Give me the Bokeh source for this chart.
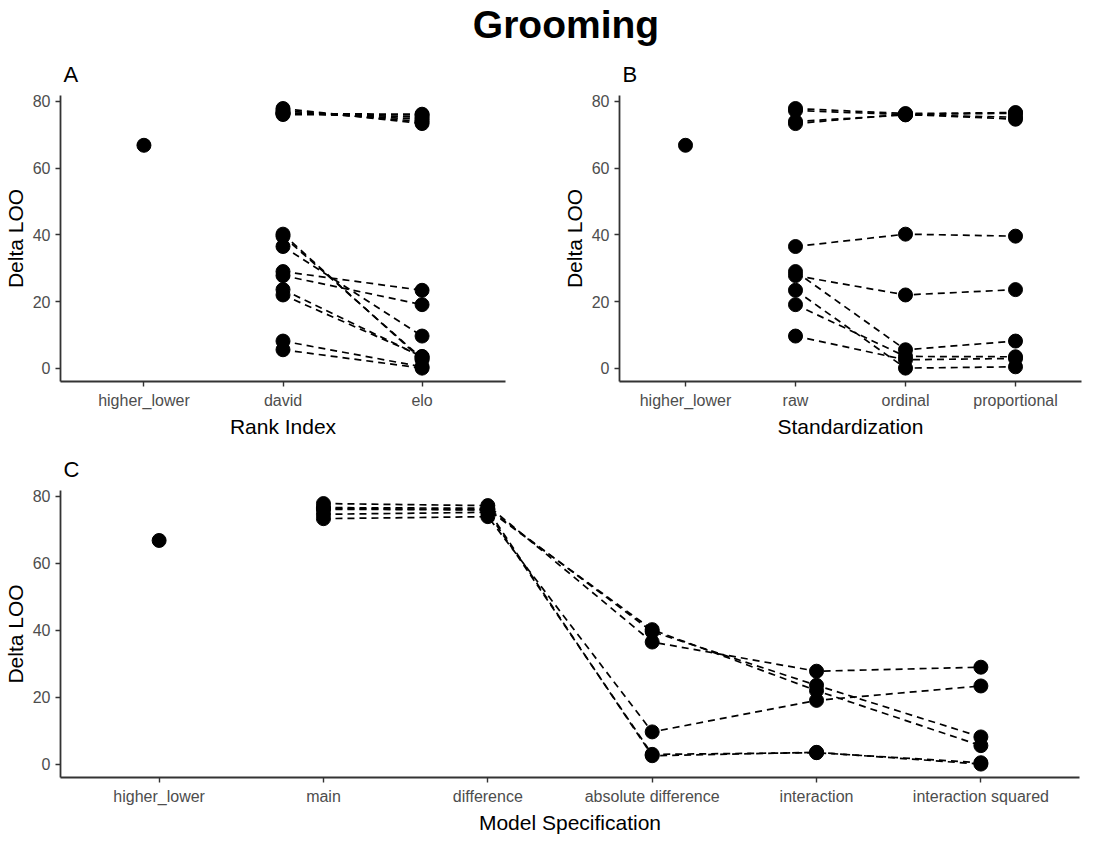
from bokeh.plotting import figure
from bokeh.layouts import column, row
from bokeh.models import Range1d, FixedTicker, Div, ColumnDataSource
from bokeh.embed import file_html
from bokeh.resources import INLINE

# ---- data -----------------------------------------------------------------
rank_levels = ["higher_lower", "david", "elo"]
std_levels = ["higher_lower", "raw", "ordinal", "proportional"]
spec_levels = ["higher_lower", "main", "difference", "absolute difference",
               "interaction", "interaction squared"]

higher_lower_loo = 66.8

model_rank = ["david"] * 15 + ["elo"] * 15
model_std = (["raw"] * 5 + ["ordinal"] * 5 + ["proportional"] * 5) * 2
model_spec = ["main", "difference", "absolute difference",
              "interaction", "interaction squared"] * 6
delta_loo = [
    77.8, 77.2, 36.5, 27.8, 29.0,   # david raw
    76.3, 76.0, 40.2, 22.0, 5.6,    # david ordinal
    76.6, 76.4, 39.6, 23.6, 8.2,    # david proportional
    73.3, 73.9, 9.7, 19.1, 23.4,    # elo raw
    76.1, 75.9, 2.6, 3.6, 0.1,      # elo ordinal
    74.6, 75.2, 3.0, 3.5, 0.5,      # elo proportional
]
y_ticks = [0, 20, 40, 60, 80]

FONT = "Liberation Sans"


def make_panel(letter, levels, var, others, xlabel, width, height,
               bl, br, bt, bb):
    pos = {lvl: i + 1 for i, lvl in enumerate(levels)}
    n = len(levels)
    p = figure(width=width, height=height,
               x_range=Range1d(0.4, n + 0.6), y_range=Range1d(-3.9, 81.7),
               output_backend="svg", toolbar_location=None,
               min_border_left=bl, min_border_right=br,
               min_border_top=bt, min_border_bottom=bb)
    p.title.text = letter
    p.title.text_font = FONT
    p.title.text_font_size = "22px"
    p.title.text_font_style = "normal"
    p.title.text_color = "black"
    p.title.align = "left"
    p.title.offset = 3
    p.title.standoff = 18
    p.grid.visible = False
    p.outline_line_color = None
    p.background_fill_color = "white"
    p.border_fill_color = "white"

    # dashed connecting lines
    groups = {}
    for r, s, sp, v in zip(model_rank, model_std, model_spec, delta_loo):
        d = {"rank": r, "std": s, "spec": sp}
        key = tuple(d[o] for o in others)
        groups.setdefault(key, []).append((pos[d[var]], v))
    xs, ys = [], []
    for key, pts in groups.items():
        pts.sort()
        xs.append([a for a, b in pts])
        ys.append([b for a, b in pts])
    p.multi_line(xs, ys, line_color="black", line_width=1.7, line_dash="7 5")

    # points
    px = [pos["higher_lower"]]
    py = [higher_lower_loo]
    for r, s, sp, v in zip(model_rank, model_std, model_spec, delta_loo):
        d = {"rank": r, "std": s, "spec": sp}
        px.append(pos[d[var]])
        py.append(v)
    src = ColumnDataSource(dict(x=px, y=py))
    p.scatter("x", "y", source=src, size=14, color="black")

    p.xaxis.ticker = FixedTicker(ticks=list(range(1, n + 1)))
    p.xaxis.major_label_overrides = {i + 1: lvl for i, lvl in enumerate(levels)}
    p.yaxis.ticker = FixedTicker(ticks=y_ticks)
    p.xaxis.axis_label = xlabel
    p.yaxis.axis_label = "Delta LOO"
    for ax in (p.xaxis[0], p.yaxis[0]):
        ax.axis_line_color = "#333333"
        ax.axis_line_width = 1.8
        ax.major_tick_line_color = "#333333"
        ax.major_tick_line_width = 1.4
        ax.major_tick_out = 5
        ax.major_tick_in = 0
        ax.minor_tick_line_color = None
        ax.major_label_text_color = "#4D4D4D"
        ax.major_label_text_font = FONT
        ax.major_label_text_font_size = "16px"
        ax.major_label_standoff = 5
        ax.axis_label_text_font = FONT
        ax.axis_label_text_font_size = "21px"
        ax.axis_label_text_font_style = "normal"
        ax.axis_label_text_color = "black"
        ax.axis_label_standoff = 3
    return p


pA = make_panel("A", rank_levels, "rank", ["std", "spec"], "Rank Index",
                555, 390, 54, 50, 42, 58)
pB = make_panel("B", std_levels, "std", ["rank", "spec"], "Standardization",
                541, 390, 64, 15, 42, 58)
pC = make_panel("C", spec_levels, "spec", ["rank", "std"], "Model Specification",
                1096, 396, 53, 17, 50, 58)

title = Div(text="Grooming", width=1096, height=40,
            styles={"text-align": "center", "font-weight": "bold",
                    "font-size": "39px", "font-family": FONT,
                    "line-height": "40px", "color": "black",
                    "text-indent": "26px"})

layout = column(title, row(pA, pB), pC)
open("out.html", "w").write(file_html(layout, INLINE))
